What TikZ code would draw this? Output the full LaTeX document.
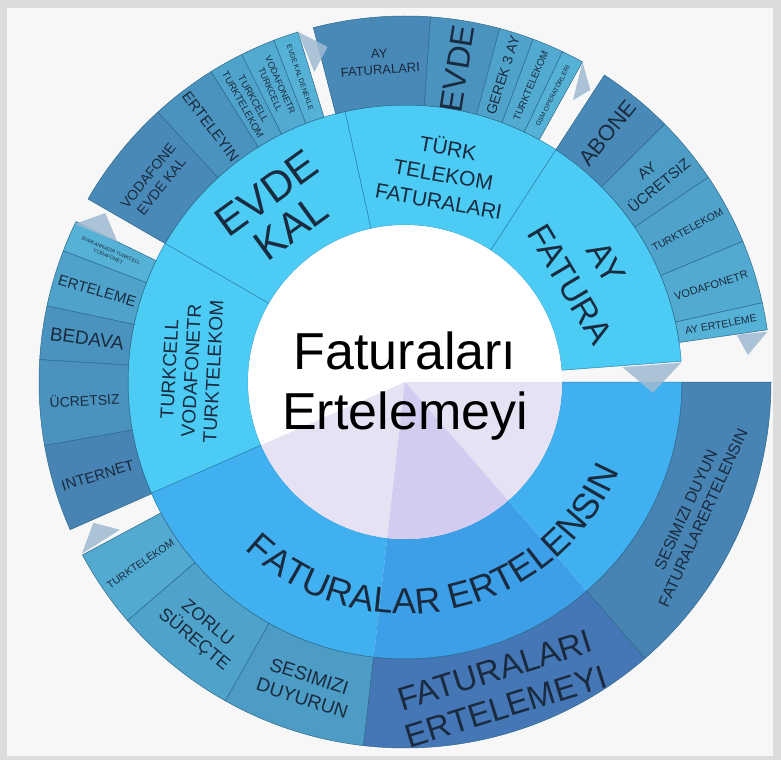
\documentclass[tikz,border=0pt]{standalone}
\usepackage{fontspec}
\setmainfont{Liberation Sans}
\usetikzlibrary{decorations.text}

\definecolor{pagebg}{HTML}{F7F7F7}
\definecolor{pageframe}{HTML}{DCDCDC}
\definecolor{hubsoft}{HTML}{E6E1F3}
\definecolor{hubdeep}{HTML}{D4CCF0}
\definecolor{ringcyan}{HTML}{4CCBF4}
\definecolor{ringblue}{HTML}{41B0F0}
\definecolor{ringdeep}{HTML}{3D9FE8}
\definecolor{ringline}{HTML}{2B84B0}
\definecolor{segline}{HTML}{2E6A8C}
\definecolor{flapgray}{HTML}{9FBBD2}
\definecolor{ink}{HTML}{1A2B3F}
\definecolor{leafhot}{HTML}{4577B6}
\definecolor{leafa}{HTML}{4783B3}
\definecolor{leafb}{HTML}{4989B7}
\definecolor{leafc}{HTML}{4B93BF}
\definecolor{leafd}{HTML}{4D9CC5}
\definecolor{leafe}{HTML}{4FA3CB}
\definecolor{leaff}{HTML}{52AAD0}
\definecolor{leafg}{HTML}{55B1D5}

% annular sector: from, to, inner radius, outer radius, style
\newcommand{\ringseg}[5]{%
  \path[#5] (#1:#3pt) arc[start angle=#1, end angle=#2, radius=#3pt]
    -- (#2:#4pt) arc[start angle=#2, end angle=#1, radius=#4pt] -- cycle;}

\begin{document}
\begin{tikzpicture}[
  hubring/.style={fill=#1, draw=ringline, line width=0.5pt},
  leafseg/.style={fill=#1, draw=segline, line width=0.5pt},
  flapfill/.style={fill=flapgray, fill opacity=0.85},
  lbl/.style 2 args={text=ink, align=center, inner sep=0pt,
                     font=\fontsize{#1}{#2}\selectfont}
]
\useasboundingbox (-405pt,-378pt) rectangle (376pt,382pt);
\fill[pageframe] (-405pt,-378pt) rectangle (376pt,382pt);
\fill[pagebg] (-398pt,-374pt) rectangle (368pt,374pt);
% --- inner ring ---
\ringseg{4.3}{57}{157}{277}{hubring=ringcyan}
\ringseg{57}{102.5}{157}{277}{hubring=ringcyan}
\ringseg{102.5}{150}{157}{277}{hubring=ringcyan}
\ringseg{150}{203.7}{157}{277}{hubring=ringcyan}
\ringseg{203.7}{263.5}{157}{277}{fill=ringblue}
\ringseg{263.5}{311}{157}{277}{fill=ringdeep}
\ringseg{311}{360}{157}{277}{fill=ringblue}
\ringseg{203.7}{360}{157}{277}{draw=ringline, line width=0.5pt}
% --- outer ring: TÜRK TELEKOM FATURALARI ---
\ringseg{86}{104.5}{277}{366}{leafseg=leafb}
\ringseg{75}{86}{277}{366}{leafseg=leafc}
\ringseg{69.5}{75}{277}{366}{leafseg=leafe}
\ringseg{64.5}{69.5}{277}{366}{leafseg=leaff}
\ringseg{61}{64.5}{277}{366}{leafseg=leafg}
% --- outer ring: AY FATURA ---
\ringseg{44.8}{57}{277}{366}{leafseg=leafb}
\ringseg{34}{44.8}{277}{366}{leafseg=leafd}
\ringseg{22.6}{34}{277}{366}{leafseg=leafe}
\ringseg{12.5}{22.6}{277}{366}{leafseg=leaff}
\ringseg{8.2}{12.5}{277}{366}{leafseg=leafg}
% --- outer ring: EVDE KAL ---
\ringseg{107}{111}{277}{366}{leafseg=leafg}
\ringseg{111}{116.5}{277}{366}{leafseg=leaff}
\ringseg{116.5}{122}{277}{366}{leafseg=leafe}
\ringseg{122}{132.5}{277}{366}{leafseg=leafc}
\ringseg{132.5}{150}{277}{366}{leafseg=leafb}
% --- outer ring: TURKCELL VODAFONETR TURKTELEKOM ---
\ringseg{154}{159}{277}{366}{leafseg=leafg}
\ringseg{159}{168}{277}{366}{leafseg=leafe}
\ringseg{168}{176.5}{277}{366}{leafseg=leafc}
\ringseg{176.5}{190}{277}{366}{leafseg=leafc}
\ringseg{190}{203.8}{277}{366}{leafseg=leafa}
% --- outer ring: FATURALAR ERTELENSIN ---
\ringseg{208.2}{220.7}{277}{366}{leafseg=leaff}
\ringseg{220.7}{240.6}{277}{366}{leafseg=leafe}
\ringseg{240.6}{263.5}{277}{366}{leafseg=leafd}
\ringseg{263.5}{311}{277}{366}{leafseg=leafhot}
\ringseg{311}{360}{277}{366}{leafseg=leafa}
% --- flaps ---
\fill[flapfill] (107:366pt) -- (103:344pt) -- (106.3:323pt) -- cycle;
\fill[flapfill] (61:366pt) -- (57.6:346pt) -- (59.2:328pt) -- cycle;
\fill[flapfill] (7.9:366pt) -- (4.5:344pt) -- (8.1:335pt) -- cycle;
\fill[flapfill] (4:277pt) -- (-2.5:248pt) -- (3.9:218pt) -- cycle;
\fill[flapfill] (154.4:366pt) -- (150.6:344pt) -- (154:320pt) -- cycle;
\fill[flapfill] (208:366pt) -- (204.3:342pt) -- (207.4:321pt) -- cycle;
% --- hub ---
\fill[white] (0,0) circle[radius=157pt];
\fill[hubsoft] (0,0) -- (203.7:157pt) arc[start angle=203.7, end angle=360, radius=157pt] -- cycle;
\fill[hubdeep] (0,0) -- (263.5:157pt) arc[start angle=263.5, end angle=311, radius=157pt] -- cycle;
\node[font=\fontsize{52}{60}\selectfont, align=center, inner sep=0pt] (hub) at (0pt,-4.5pt) {Faturaları\\Ertelemeyi};
% --- inner labels ---
\node[lbl={42}{42}, rotate=36] (evdekal) at (126.3:213pt) {EVDE\\KAL};
\node[lbl={21}{27}, rotate=-10] (turktel) at (79.5:212pt) {TÜRK\\TELEKOM\\FATURALARI};
\node[lbl={34}{42}, rotate=-59.4] (ayfatura) at (30.6:213pt) {AY\\FATURA};
\node[lbl={19}{22}, rotate=87] (operator) at (177:214pt) {TURKCELL\\VODAFONETR\\TURKTELEKOM};
\path[decorate, decoration={text along path, text align=center,
  text={|\fontsize{36}{36}\selectfont\color{ink}|FATURALAR ERTELENSIN}}]
  (203.7:232pt) arc[start angle=203.7, end angle=360, radius=232pt];
% --- outer labels ---
\node[lbl={13}{16}, rotate=4] (ayfat) at (94.5:321pt) {AY\\FATURALARI};
\node[lbl={32}{32}, rotate=81] (evde) at (80.5:318pt) {EVDE};
\node[lbl={14}{14}, rotate=72.5] (gerek) at (72.3:322pt) {GEREK 3 AY};
\node[lbl={10}{10}, rotate=67] (tttop) at (67:322pt) {TURKTELEKOM};
\node[lbl={6.5}{6.5}, rotate=62.7] (gsm) at (62.75:322pt) {GSM OPERATÖRLERI};
\node[lbl={22}{22}, rotate=51] (abone) at (50.9:321pt) {ABONE};
\node[lbl={15}{19}, rotate=39.4] (ayucret) at (39.4:321pt) {AY\\ÜCRETSIZ};
\node[lbl={10.5}{10.5}, rotate=28.3] (ttright) at (28.3:321pt) {TURKTELEKOM};
\node[lbl={11}{11}, rotate=17.5] (vodright) at (17.5:321pt) {VODAFONETR};
\node[lbl={10.5}{10.5}, rotate=10.3] (ayert) at (10.3:321pt) {AY ERTELEME};
\node[lbl={7}{7}, rotate=-71] (denekle) at (109:322pt) {EVDE KAL DENEKLE};
\node[lbl={9}{11}, rotate=-66.3] (vodturk) at (113.75:322pt) {VODAFONETR\\TURKCELL};
\node[lbl={10}{12}, rotate=-60.7] (turkturk) at (119.25:321pt) {TURKCELL\\TURKTELEKOM};
\node[lbl={15}{15}, rotate=-52.7] (erteleyin) at (127.25:321pt) {ERTELEYIN};
\node[lbl={14}{17}, rotate=51.25] (vodevde) at (141.25:321pt) {VODAFONE\\EVDE KAL};
\node[lbl={5}{6.5}, rotate=-23.5] (surkan) at (156.5:322pt) {SURKANNADIR TURKCELL\\VODAFONET};
\node[lbl={15}{15}, rotate=-16.5] (ertleft) at (163.5:321pt) {ERTELEME};
\node[lbl={19}{19}, rotate=-7.75] (bedava) at (172.25:321pt) {BEDAVA};
\node[lbl={14}{14}, rotate=3.25] (ucretsiz) at (183.25:321pt) {ÜCRETSIZ};
\node[lbl={15}{15}, rotate=16.9] (internet) at (196.9:321pt) {INTERNET};
\node[lbl={10.5}{10.5}, rotate=34.5] (ttleft) at (214.5:321pt) {TURKTELEKOM};
\node[lbl={18}{21}, rotate=-39.3] (zorlu) at (230.7:323pt) {ZORLU\\SÜREÇTE};
\node[lbl={19}{23}, rotate=-18] (sesduyurun) at (252:321pt) {SESIMIZI\\DUYURUN};
\node[lbl={33}{38}, rotate=17.3] (fatert) at (287.3:321pt) {FATURALARI\\ERTELEMEYI};
\node[lbl={16}{19}, rotate=65.5] (sesduyun) at (335.5:318pt) {SESIMIZI DUYUN\\FATURALARERTELENSIN};
\end{tikzpicture}
\end{document}
